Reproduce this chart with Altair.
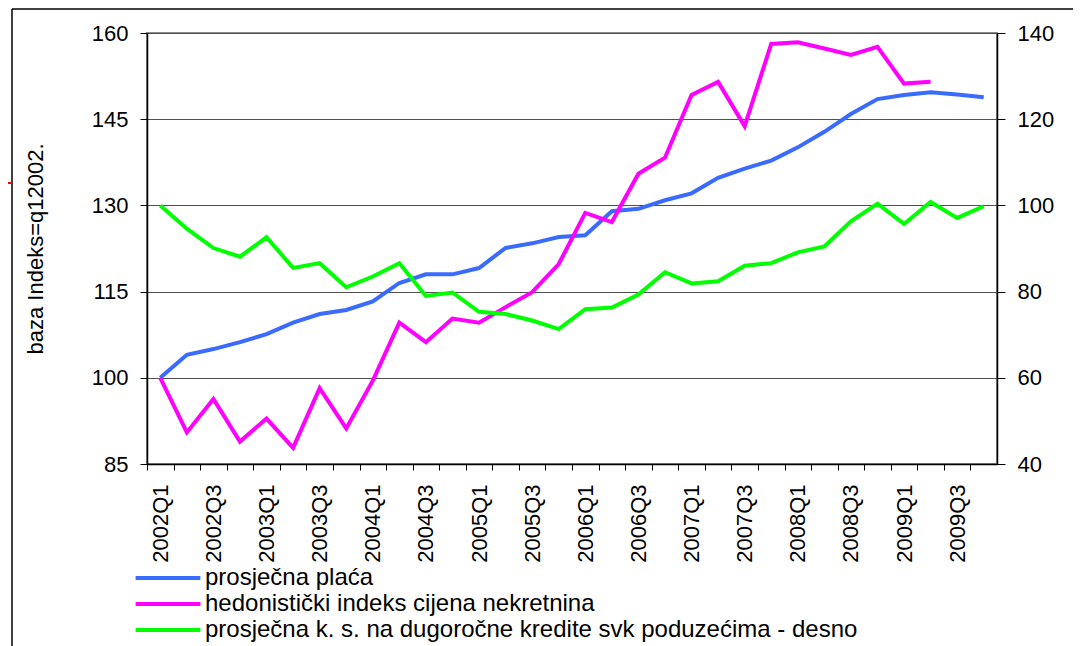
import altair as alt
import pandas as pd

quarters = ["2002Q1", "2002Q2", "2002Q3", "2002Q4", "2003Q1", "2003Q2", "2003Q3", "2003Q4",
            "2004Q1", "2004Q2", "2004Q3", "2004Q4", "2005Q1", "2005Q2", "2005Q3", "2005Q4",
            "2006Q1", "2006Q2", "2006Q3", "2006Q4", "2007Q1", "2007Q2", "2007Q3", "2007Q4",
            "2008Q1", "2008Q2", "2008Q3", "2008Q4", "2009Q1", "2009Q2", "2009Q3", "2009Q4"]

placa = [100, 104, 105, 106.2, 107.6, 109.6, 111.1, 111.8, 113.3, 116.5,
         118, 118, 119.1, 122.6, 123.4, 124.5, 124.8, 129, 129.4, 130.9,
         132.1, 134.8, 136.4, 137.8, 140.1, 142.8, 145.9, 148.5, 149.2, 149.7,
         149.3, 148.8]
nekretnine = [100, 90.5, 96.3, 88.9, 92.9, 87.8, 98.2, 91.2, 99.5, 109.6,
              106.2, 110.3, 109.6, 112.3, 114.9, 119.8, 128.7, 127.1, 135.5, 138.3,
              149.2, 151.5, 143.8, 158.1, 158.4, 157.3, 156.2, 157.6, 151.2, 151.5,
              None, None]
kamata = [100, 94.6, 90.1, 88.1, 92.6, 85.5, 86.6, 81.0, 83.5, 86.6,
          79.0, 79.8, 75.3, 74.8, 73.3, 71.3, 75.9, 76.3, 79.3, 84.5,
          81.9, 82.4, 86.0, 86.6, 89.1, 90.5, 96.3, 100.4, 95.7, 100.8,
          97.1, 99.8]

series_names = ["prosječna plaća",
                "hedonistički indeks cijena nekretnina",
                "prosječna k. s. na dugoročne kredite svk poduzećima - desno"]
series_colors = ["#3A6BFF", "#FF00FF", "#00FF00"]
left_ticks = [85, 100, 115, 130, 145, 160]
right_ticks = [40, 60, 80, 100, 120, 140]
y_title = "baza Indeks=q12002."

rows = []
for name, vals in zip(series_names, [placa, nekretnine, kamata]):
    for q, v in zip(quarters, vals):
        if v is not None:
            rows.append({"q": q, "series": name, "value": v})
df = pd.DataFrame(rows)
df_left = df[df["series"] != series_names[2]]
df_right = df[df["series"] == series_names[2]]

FONT = "Liberation Sans"
PLOT_W = 850
HALF_BAND = PLOT_W / len(quarters) / 2

x_enc = alt.X("q:N", sort=quarters, title=None,
              scale=alt.Scale(type="band", domain=quarters, paddingInner=0, paddingOuter=0),
              axis=alt.Axis(labelAngle=270, tickOffset=-HALF_BAND, labelOffset=HALF_BAND,
                            tickSize=6, labelPadding=14,
                            labelFontSize=22, domainColor="black", tickColor="black",
                            domainWidth=1.5, grid=False,
                            labelExpr="indexof(datum.value,'Q1')>=0 || indexof(datum.value,'Q3')>=0 ? datum.value : ''"))

color_enc = alt.Color("series:N",
                      scale=alt.Scale(domain=series_names, range=series_colors),
                      legend=alt.Legend(title=None, orient="none", legendX=7, legendY=531,
                                        direction="vertical", symbolType="M-2.7,0H2.7",
                                        symbolSize=576, symbolStrokeWidth=4,
                                        rowPadding=0, labelFontSize=24, labelFont=FONT,
                                        labelOffset=23, labelLimit=1200, padding=0,
                                        labelColor="black"))

left = alt.Chart(df_left).mark_line(strokeWidth=4).encode(
    x=x_enc,
    y=alt.Y("value:Q", title=y_title,
            scale=alt.Scale(domain=[85, 160], nice=False, zero=False),
            axis=alt.Axis(values=left_ticks, tickSize=7, labelPadding=12, labelFontSize=22,
                          grid=True, gridColor="#505050", gridWidth=1.2,
                          domainColor="black", domainWidth=1.5, tickColor="black",
                          titleFontSize=22, titleFontWeight="normal", titlePadding=44)),
    color=color_enc,
)

right = alt.Chart(df_right).mark_line(strokeWidth=4).encode(
    x=x_enc,
    y=alt.Y("value:Q", title=None,
            scale=alt.Scale(domain=[40, 140], nice=False, zero=False),
            axis=alt.Axis(orient="right", values=right_ticks, tickSize=8, labelPadding=12,
                          labelFontSize=22, grid=False, domainColor="black",
                          domainWidth=1.5, tickColor="black")),
    color=color_enc,
)

one = pd.DataFrame({"k": [0]})
frame_left = alt.Chart(one).mark_rule(color="black", strokeWidth=1.5).encode(
    x=alt.value(-135), y=alt.value(-24), y2=alt.value(620))
frame_top = alt.Chart(one).mark_rule(color="black", strokeWidth=1.5).encode(
    x=alt.value(-135), x2=alt.value(940), y=alt.value(-24))
red_mark = alt.Chart(one).mark_rule(color="red", strokeWidth=2).encode(
    x=alt.value(-140), x2=alt.value(-135), y=alt.value(150))

chart = alt.layer(left, right, frame_left, frame_top, red_mark).resolve_scale(
    y="independent"
).properties(
    width=PLOT_W, height=431,
    autosize=alt.AutoSizeParams(type="none"),
    padding={"left": 139, "top": 25, "right": 76, "bottom": 182},
).configure_axis(
    labelFont=FONT, titleFont=FONT, labelColor="black", titleColor="black"
).configure_view(
    stroke="#8a8a8a", strokeWidth=2
)

chart.save("out.html", embed_options={"renderer": "svg", "actions": False})
